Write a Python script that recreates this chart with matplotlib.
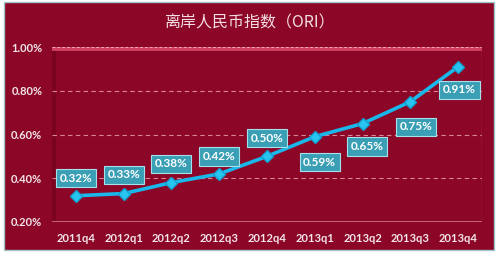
import matplotlib.pyplot as plt
from matplotlib.patches import Rectangle

plt.rcParams['font.family'] = ['Lato', 'DejaVu Sans']

# data
quarters = ['2011q4', '2012q1', '2012q2', '2012q3', '2012q4',
            '2013q1', '2013q2', '2013q3', '2013q4']
ori = [0.32, 0.33, 0.38, 0.42, 0.50, 0.59, 0.65, 0.75, 0.91]
y_ticks = [0.20, 0.40, 0.60, 0.80, 1.00]
title = '离岸人民币指数（ORI）'

# label placement: offset in points from each point
label_offsets = [(0, 12.5), (0, 13.5), (0, 13.5), (0, 12.5), (0, 13),
                 (3.5, -18.5), (3.5, -16.5), (4, -18), (1, -16.5)]

bg = '#8C0627'
fig = plt.figure(figsize=(5, 2.57), dpi=100)
fig.patch.set_facecolor('white')
fig.patches.append(Rectangle((4 / 500, 1 - 250 / 257), 490 / 500, 248 / 257,
                             transform=fig.transFigure, facecolor=bg,
                             edgecolor='#9cc6c8', linewidth=1.0, zorder=-1))

ax = fig.add_axes([52 / 500, 35 / 257, 430 / 500, 175 / 257])
ax.set_facecolor(bg)
x = list(range(len(quarters)))

for v in y_ticks[1:-1]:
    ax.axhline(v, color='#d98598', linestyle=(0, (4, 3)), linewidth=0.8, zorder=1)
# top edge of the 3d wall
ax.axhline(0.995, color='#d23f60', linewidth=3.5, zorder=1)
ax.axhline(1.0, color='#f0a8b8', linestyle=(0, (3, 2)), linewidth=0.7, zorder=1)
# bottom floor line
ax.axhline(0.2, color='#d0788c', linewidth=1.2, zorder=1)
ax.axvspan(-0.5, -0.42, color='#7a0420', zorder=0.5, linewidth=0)
ax.axvline(8.5, color='#a8304c', linewidth=1.0, zorder=1)

ax.plot(x, ori, color='#1ab8ea', linewidth=2.6, marker='D', markersize=6.5,
        markerfacecolor='#28c4f0', markeredgecolor='#12a0d0', zorder=3,
        clip_on=False)

for xi, v, off in zip(x, ori, label_offsets):
    ax.annotate(f'{v:.2f}%', (xi, v), xytext=off, textcoords='offset points',
                ha='center', va='center', color='white', fontsize=8.5,
                fontweight='bold', zorder=4,
                bbox=dict(boxstyle='square,pad=0.3', facecolor='#3a9fb5',
                          edgecolor='#a6e0ea', linewidth=0.8))

ax.set_xlim(-0.5, 8.5)
ax.set_ylim(0.2, 1.0)
ax.set_xticks(x)
ax.set_xticklabels(quarters)
ax.set_yticks(y_ticks)
ax.set_yticklabels([f'{v:.2f}%' for v in y_ticks])
ax.tick_params(length=0, colors='#f2e6ea', labelsize=8)
ax.tick_params(axis='x', pad=8)
ax.tick_params(axis='y', pad=7)
for lab in ax.get_xticklabels() + ax.get_yticklabels():
    lab.set_fontweight('bold')
for s in ax.spines.values():
    s.set_visible(False)

fig.text(0.5, 1 - 23 / 257, title, ha='center', va='center', fontsize=11.5,
         color='#f4dde2', family=['Noto Sans CJK SC', 'DejaVu Sans'])

fig.savefig('out.png', dpi=100, facecolor=fig.get_facecolor())
